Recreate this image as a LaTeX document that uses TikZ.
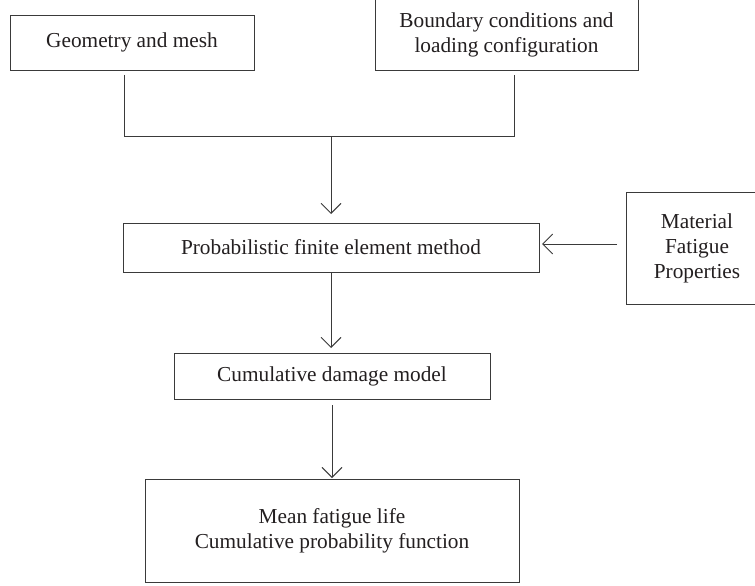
\documentclass[tikz,border=0pt]{standalone}
\usepackage{fontspec}
\setmainfont{Liberation Serif}
\usetikzlibrary{arrows.meta,calc}
\definecolor{linec}{HTML}{3A3A3A}
\definecolor{textc}{HTML}{231F20}
\begin{document}
\begin{tikzpicture}[x=1pt,y=-1pt,
  box/.style={draw=linec, line width=0.9pt, inner sep=0pt, outer sep=0pt, align=center,
    font=\fontsize{21.3}{25}\selectfont, text=textc},
  conn/.style={draw=linec, line width=0.9pt},
  arr/.style={conn, -{Straight Barb[length=10pt,width=20pt,line width=0.9pt]}}]
\fill[white] (0,0) rectangle (755,586);
\useasboundingbox (0,0) rectangle (755,586);

\node[box, minimum width=244pt, minimum height=55pt] (geo) at (132,42.5) {Geometry and mesh};
\node[box, minimum width=263pt, minimum height=71pt] (bc) at (506.5,34.5) {Boundary conditions and\\loading configuration};
\node[box, minimum width=416pt, minimum height=49pt] (prob) at (331,247.5) {Probabilistic finite element method};
\node[box, minimum width=142pt, minimum height=112pt] (mat) at (697,248) {Material\\Fatigue\\Properties};
\node[box, minimum width=316pt, minimum height=46pt] (cum) at (332,376) {Cumulative damage model};
\node[box, minimum width=374pt, minimum height=103pt] (mean) at (332,530.5) {Mean fatigue life\\Cumulative probability function};

\coordinate (j1) at (124,136);
\coordinate (j2) at (514,136);
\coordinate (jm) at (331,136);

\draw[conn] ($(geo.south -| j1)+(0,5)$) -- (j1) -- (j2) -- ($(bc.south -| j2)+(0,5)$);
\draw[arr] (jm) -- ($(prob.north)+(0,-9)$);
\draw[arr] ($(mat.west)+(-9,-4)$) -- ($(prob.east)+(3,-3.5)$);
\draw[arr] (prob.south) -- ($(cum.north -| prob.south)+(0,-5)$);
\draw[arr] ($(cum.south)+(0,6)$) -- ($(mean.north)+(0,-1)$);
\end{tikzpicture}
\end{document}
